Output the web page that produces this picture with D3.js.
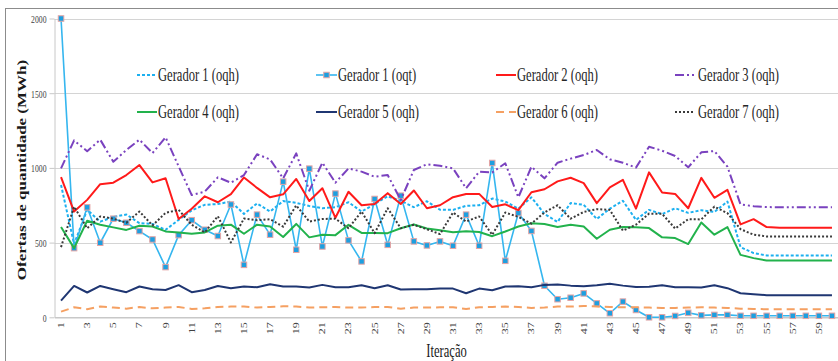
<!DOCTYPE html>
<html>
<head>
<meta charset="utf-8">
<script src="https://cdn.jsdelivr.net/npm/d3@7"></script>
<style>
  html, body { margin: 0; padding: 0; background: #ffffff; }
  svg { display: block; }
  text { font-family: "Liberation Serif", "Times New Roman", serif; }
</style>
</head>
<body>
<svg id="chart" width="838" height="361"></svg>
<script>
// Iterations (x categories)
const iteracoes = [1,2,3,4,5,6,7,8,9,10,11,12,13,14,15,16,17,18,19,20,
  21,22,23,24,25,26,27,28,29,30,31,32,33,34,35,36,37,38,39,40,
  41,42,43,44,45,46,47,48,49,50,51,52,53,54,55,56,57,58,59,60];
const xTickLabels = [1,3,5,7,9,11,13,15,17,19,21,23,25,27,29,31,33,35,37,39,41,43,45,47,49,51,53,55,57,59];
const yTicks = [0, 500, 1000, 1500, 2000];

// Quantity offers per generator (MWh)
const g1_oqh = [886,490,720,640,672,688,630,625,585,652,716,753,758,775,692,762,708,778,766,745,
  730,737,770,708,758,810,780,737,777,720,719,746,750,795,775,727,803,692,638,765,
  753,658,727,780,652,719,691,730,699,717,705,775,470,430,414,414,414,414,414,414];
const g1_oqt = [2000,463,736,499,660,633,577,521,336,550,650,586,544,755,351,687,553,908,452,995,
  474,828,515,374,792,485,814,508,481,508,479,687,479,1033,378,698,578,211,121,131,
  160,93,27,105,49,0,0,9,30,13,16,16,10,10,10,10,10,10,10,10];
const g2_oqh = [938,708,786,891,901,952,1019,903,931,658,727,810,770,825,936,866,803,823,926,778,
  864,666,840,750,758,831,758,849,730,750,804,825,826,738,756,717,837,857,910,934,
  898,764,870,920,727,970,835,826,730,933,800,853,622,657,604,600,600,600,600,600];
const g3_oqh = [997,1184,1112,1189,1041,1120,1189,1099,1205,1010,818,841,937,901,952,1091,1057,930,1097,847,
  1035,901,997,975,941,952,785,986,1024,1015,997,863,975,970,1031,803,1008,930,1035,1062,
  1086,1120,1057,1035,1002,1142,1115,1080,1004,1104,1113,1008,756,744,738,736,736,736,736,736];
const g4_oqh = [604,463,646,620,602,585,613,608,575,568,559,568,613,620,559,620,608,537,625,535,
  552,550,619,565,565,563,596,621,594,582,569,576,571,543,574,608,630,625,605,619,
  608,526,586,604,602,597,535,530,490,635,553,604,418,396,380,380,380,380,380,380];
const g5_oqh = [112,210,166,210,188,168,206,188,183,215,168,183,210,195,206,201,221,206,206,199,
  217,201,201,215,195,215,186,188,188,192,192,161,192,181,206,208,201,217,219,212,
  208,215,224,212,203,204,215,201,201,199,215,195,161,154,148,148,148,148,148,148];
const g6_oqh = [38,67,54,72,65,58,69,60,65,69,56,60,69,72,72,65,69,74,72,65,
  67,69,65,65,69,69,58,65,65,67,67,56,67,69,72,69,63,65,72,72,
  76,72,69,67,67,65,63,63,65,67,65,63,58,56,54,54,54,54,54,54];
const g7_oqh = [470,740,596,675,660,633,708,615,699,719,619,568,677,501,661,650,656,607,749,641,
  658,660,596,708,563,730,596,619,590,557,701,641,675,552,701,672,627,702,750,660,
  705,724,719,580,620,694,693,594,657,655,741,697,590,553,541,541,541,541,541,541];

const seriesNames = ["Gerador 1 (oqh)","Gerador 1 (oqt)","Gerador 2 (oqh)","Gerador 3 (oqh)",
  "Gerador 4 (oqh)","Gerador 5 (oqh)","Gerador 6 (oqh)","Gerador 7 (oqh)"];
const seriesValues = [g1_oqh, g1_oqt, g2_oqh, g3_oqh, g4_oqh, g5_oqh, g6_oqh, g7_oqh];

// Line styling per series
const styles = [
  { color: "#1cb0f0", width: 2,   dash: "3,2",             cap: "butt",  marker: false },
  { color: "#35b6ef", width: 1.6, dash: null,              cap: "butt",  marker: true  },
  { color: "#ff1a1a", width: 2,   dash: null,              cap: "butt",  marker: false },
  { color: "#7a42bf", width: 2,   dash: "9,3,2,3,2,3",     cap: "butt",  marker: false },
  { color: "#22b24c", width: 2,   dash: null,              cap: "butt",  marker: false },
  { color: "#1f3672", width: 2,   dash: null,              cap: "butt",  marker: false },
  { color: "#f5a062", width: 2,   dash: "8,5",             cap: "butt",  marker: false },
  { color: "#3a3a3a", width: 2,   dash: "2,2",             cap: "butt",  marker: false }
];

const SX = 0.7; // horizontal glyph compression used for all text

const svg = d3.select("#chart");

// Outer chart frame
svg.append("rect")
  .attr("x", 5.5).attr("y", 8.5)
  .attr("width", 900).attr("height", 400)
  .attr("fill", "#ffffff")
  .attr("stroke", "#8c8c8c").attr("stroke-width", 1);

const plot = { left: 54.5, right: 838.5, top: 18.5, bottom: 317.3 };

const x = d3.scaleBand().domain(iteracoes).range([plot.left, plot.right]);
const xc = d => x(d) + x.bandwidth() / 2;
const y = d3.scaleLinear().domain([0, 2000]).range([plot.bottom, plot.top]);

// Horizontal gridlines
svg.append("g").selectAll("line")
  .data(yTicks.filter(t => t > 0))
  .join("line")
  .attr("x1", plot.left).attr("x2", plot.right)
  .attr("y1", d => Math.round(y(d)) + 0.5).attr("y2", d => Math.round(y(d)) + 0.5)
  .attr("stroke", "#d4d4d4").attr("stroke-width", 1);

// Y axis
const yAxis = svg.append("g")
  .attr("transform", `translate(${plot.left},0)`)
  .call(d3.axisLeft(y).tickValues(yTicks).tickFormat(d3.format("d"))
    .tickSize(5).tickSizeOuter(0).tickPadding(8));
yAxis.select(".domain").attr("stroke", "#c8c8c8");
yAxis.selectAll(".tick line").attr("stroke", "#c8c8c8");
yAxis.selectAll(".tick text")
  .attr("x", null)
  .attr("transform", `translate(-8,0) scale(${SX},1)`)
  .attr("dy", "0.35em")
  .attr("font-size", 11)
  .attr("font-family", "Liberation Serif, serif")
  .attr("fill", "#404040");

// X axis
const xAxis = svg.append("g")
  .attr("transform", `translate(0,${plot.bottom})`)
  .call(d3.axisBottom(x).tickValues(xTickLabels).tickSize(0).tickSizeOuter(0));
xAxis.select(".domain").attr("stroke", "#c8c8c8").attr("stroke-width", 1.5);
xAxis.selectAll(".tick text")
  .attr("y", null).attr("dy", "0.35em")
  .attr("text-anchor", "end")
  .attr("transform", `translate(0,5) scale(${SX},1) rotate(-90)`)
  .attr("font-size", 12)
  .attr("font-family", "Liberation Serif, serif")
  .attr("fill", "#404040");

// Series lines
const line = d3.line().x((d, i) => xc(iteracoes[i])).y(d => y(d));
const lines = svg.append("g");
seriesValues.forEach((vals, k) => {
  const st = styles[k];
  lines.append("path")
    .datum(vals)
    .attr("d", line)
    .attr("fill", "none")
    .attr("stroke", st.color)
    .attr("stroke-width", st.width)
    .attr("stroke-dasharray", st.dash)
    .attr("stroke-linecap", st.cap)
    .attr("stroke-linejoin", "round");
  if (st.marker) {
    lines.append("g").selectAll("rect")
      .data(vals)
      .join("rect")
      .attr("x", (d, i) => xc(iteracoes[i]) - 2.75)
      .attr("y", d => y(d) - 2.75)
      .attr("width", 5.5).attr("height", 5.5)
      .attr("fill", "#1d9fe0")
      .attr("stroke", "#e4a4a4").attr("stroke-width", 1);
  }
});

// Legend (two rows of four)
const legCols = [
  { sx1: 137, sx2: 157, tx: 158 },
  { sx1: 316, sx2: 337, tx: 338 },
  { sx1: 496, sx2: 516, tx: 517 },
  { sx1: 675, sx2: 695, tx: 698 }
];
const legRows = [75, 112];
const legend = svg.append("g");
seriesNames.forEach((name, k) => {
  const st = styles[k];
  const col = legCols[k % 4];
  const row = legRows[Math.floor(k / 4)];
  legend.append("line")
    .attr("x1", col.sx1).attr("x2", col.sx2)
    .attr("y1", row).attr("y2", row)
    .attr("stroke", st.color)
    .attr("stroke-width", st.width)
    .attr("stroke-dasharray", st.dash);
  if (st.marker) {
    legend.append("rect")
      .attr("x", (col.sx1 + col.sx2) / 2 - 2.75).attr("y", row - 2.75)
      .attr("width", 5.5).attr("height", 5.5)
      .attr("fill", "#1d9fe0")
      .attr("stroke", "#e4a4a4").attr("stroke-width", 1);
  }
  legend.append("text")
    .attr("transform", `translate(${col.tx},${row}) scale(${SX},1)`)
    .attr("dy", "0.33em")
    .attr("font-size", 18)
    .attr("fill", "#262626")
    .text(name);
});

// Axis titles
svg.append("text")
  .attr("transform", `translate(22,170) scale(${SX},1) rotate(-90)`)
  .attr("text-anchor", "middle")
  .attr("dy", "0.35em")
  .attr("font-size", 17)
  .attr("font-weight", "bold")
  .attr("fill", "#1a1a1a")
  .text("Ofertas de quantidade (MWh)");

svg.append("text")
  .attr("transform", `translate(446.5,351) scale(${SX},1)`)
  .attr("text-anchor", "middle")
  .attr("dy", "0.35em")
  .attr("font-size", 18)
  .attr("fill", "#1a1a1a")
  .text("Iteração");
</script>
</body>
</html>
